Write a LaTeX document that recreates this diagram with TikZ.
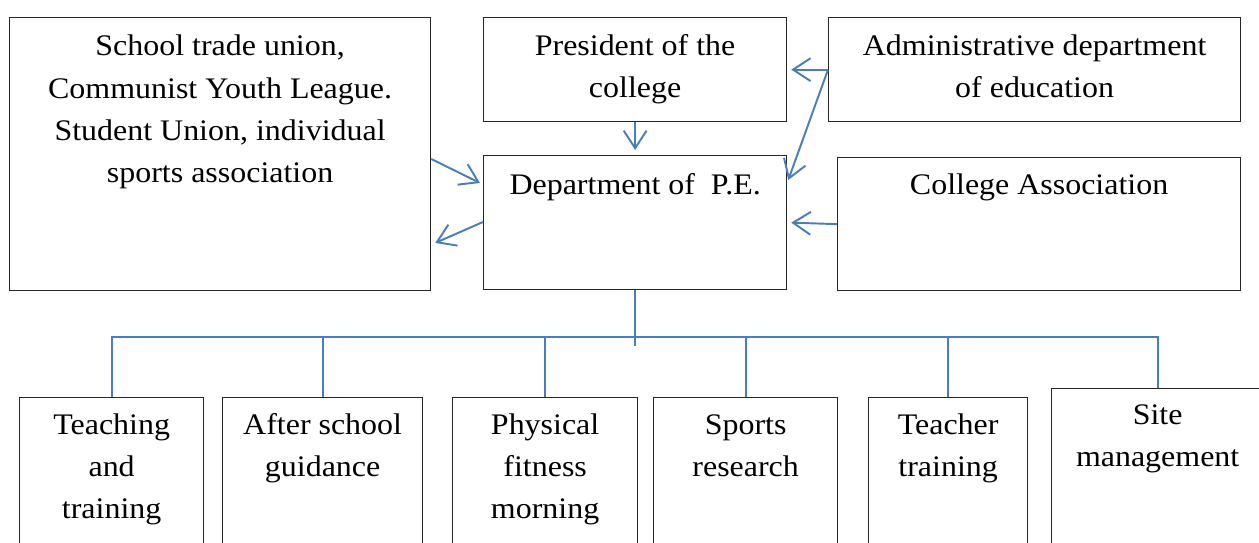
\documentclass[tikz,border=0pt]{standalone}
\usepackage{fontspec}
\setmainfont{Liberation Serif}[FakeStretch=1.07]
\usetikzlibrary{arrows.meta}
\definecolor{linkblue}{HTML}{4A7EBB}

\begin{document}
\begin{tikzpicture}[x=0.02cm, y=-0.02cm,
    box/.style={draw=black!85, line width=0.75pt, rectangle, anchor=north west, inner sep=0},
    txt/.style={anchor=base, align=center, inner sep=0, font=\fontsize{17}{24}\selectfont},
    link/.style={draw=linkblue, line width=1.1pt},
    arr/.style={link, -{Straight Barb[length=10pt, width=13pt]}}]
    \clip (0, 0) rectangle (1259, 543);

    % upper row
    \node[box, minimum width=8.42cm, minimum height=5.46cm] (union) at (9, 17) {};
    \node[box, minimum width=6.06cm, minimum height=2.08cm] (pres) at (483, 17) {};
    \node[box, minimum width=8.24cm, minimum height=2.08cm] (admin) at (828, 17) {};
    \node[box, minimum width=6.06cm, minimum height=2.68cm] (dept) at (483, 155) {};
    \node[box, minimum width=8.06cm, minimum height=2.66cm] (assoc) at (837, 157) {};

    % anchor=base sits on the last line
    \node[txt] (union-t) at ([yshift=-3.31cm]union.north) {School trade union,\\Communist Youth League.\\Student Union, individual\\sports association};
    \node[txt] (pres-t) at ([yshift=-1.62cm]pres.north) {President of the\\college};
    \node[txt] (admin-t) at ([yshift=-1.62cm]admin.north) {Administrative department\\of education};
    \node[txt] (dept-t) at ([yshift=-0.8cm]dept.north) {Department of~ P.E.};
    \node[txt] (assoc-t) at ([yshift=-0.76cm]assoc.north) {College Association};

    \draw[arr] ([yshift=-2.84cm]union.north east) -- ([xshift=-0.06cm, yshift=-0.56cm]dept.north west);
    \draw[arr] ([yshift=-1.34cm]dept.north west) -- ([xshift=0.08cm, yshift=-4.52cm]union.north east);
    \draw[arr] (pres.south) -- ([yshift=0.1cm]dept.north);
    \draw[arr] (admin.west) -- ([xshift=0.08cm]pres.east);
    \draw[arr] (admin.west) -- ([xshift=0.02cm, yshift=-0.5cm]dept.north east);
    \draw[arr] (assoc.west) -- ([xshift=0.08cm]dept.east);

    % lower row
    \coordinate (bus) at (634, 337);
    \draw[link] (dept.south) -- ++(0, 56);

    \foreach \n/\x/\y/\w/\o/\t in {teach/19/397/3.68/2.43/{Teaching\\and\\training},
        after/222/397/4.0/1.59/{After school\\guidance},
        fit/452/397/3.7/2.43/{Physical\\fitness\\morning},
        research/653/397/3.68/1.59/{Sports\\research},
        trainer/868/397/3.18/1.59/{Teacher\\training},
        site/1051/388/4.24/1.57/{Site\\management}}
    {
        \node[box, minimum width=\w cm, minimum height=3.6cm] (\n) at (\x, \y) {};
        \node[txt] (\n-t) at ([yshift=-\o cm]\n.north) {\t};
        \draw[link] (\n.north) |- (bus);
    }
\end{tikzpicture}
\end{document}
